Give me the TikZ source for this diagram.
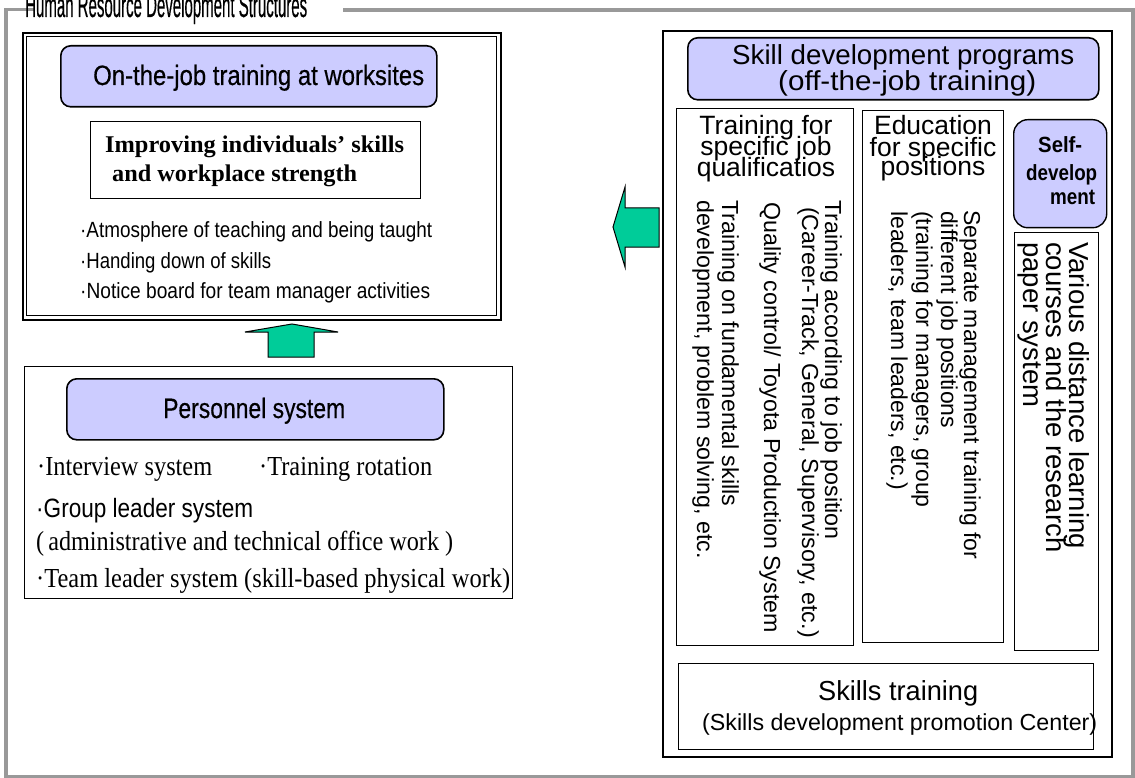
\documentclass[tikz,border=0pt]{standalone}
\usepackage{fontspec}
\usepackage{graphicx}
\setmainfont{Liberation Serif}
\newfontfamily\sansf{Liberation Sans}
\newfontfamily\sansh[FakeBold=0.5]{Liberation Sans}
\newcommand\fw[2]{\resizebox{#1pt}{\height}{#2}}
\newcommand\fs[1]{\fontsize{#1pt}{#1pt}\selectfont}
\definecolor{lav}{HTML}{CCCCFF}
\definecolor{grn}{HTML}{00CC99}
\definecolor{frame}{HTML}{999999}
\begin{document}
\begin{tikzpicture}[x=1pt,y=-1pt,
  box/.style={draw=black, line width=1pt, inner sep=0pt, anchor=north west},
  headbox/.style={draw=black, line width=1.6pt, fill=lav, rounded corners=10pt, inner sep=0pt, anchor=north west},
  txt/.style={inner sep=0pt, anchor=base west},
  ctxt/.style={inner sep=0pt, anchor=base},
  vtxt/.style={inner sep=0pt, anchor=base west, rotate=-90},
  blockarrow/.style={draw=black, line width=1pt, fill=grn, line join=miter}]
\useasboundingbox (0,0) rectangle (1135,778);
% outer gray frame
\draw[frame, line width=3.5pt] (35,9.5) -- (6,9.5) -- (6,776.5) -- (1133,776.5) -- (1133,10) -- (343,10);
\node[txt, font=\sansh\fs{34}] (title) at (25,17) {\fw{282}{Human Resource Development Structures}};

% OJT block
\node[box, line width=1.8pt, minimum width=478pt, minimum height=287pt] (ojtouter) at (22,32) {};
\node[box, line width=1.2pt, minimum width=470pt, minimum height=279pt] (ojt) at (26,36) {};
\node[headbox, minimum width=376pt, minimum height=61pt] (ojthead) at (60,45) {};
\node[txt, font=\sansh\fs{28}] (ojtT) at (93,85) {\fw{331}{On-the-job training at worksites}};
\node[box, minimum width=330pt, minimum height=77pt] (imp) at (90,121) {};
\node[txt, font=\bfseries\fs{24}] (imp1) at (105,153) {\fw{299}{Improving individuals’ skills}};
\node[txt, font=\bfseries\fs{24}] (imp2) at (112,182) {\fw{245}{and workplace strength}};
\node[txt, font=\sansf\fs{22}] (b1) at (80,237) {\fw{352}{·Atmosphere of teaching and being taught}};
\node[txt, font=\sansf\fs{22}] (b2) at (80,268) {\fw{191}{·Handing down of skills}};
\node[txt, font=\sansf\fs{22}] (b3) at (80,298) {\fw{350}{·Notice board for team manager activities}};

% Personnel block
\node[box, minimum width=488pt, minimum height=232pt] (pers) at (24,366) {};
\node[headbox, minimum width=377pt, minimum height=61pt] (pershead) at (66,378) {};
\node[txt, font=\sansh\fs{28}] (persT) at (163,418) {\fw{182}{Personnel system}};
\node[txt, font=\fs{27.5}] (p1) at (37,475) {\fw{175}{·Interview system}};
\node[txt, font=\fs{27.5}] (p2) at (259,475) {\fw{173}{·Training rotation}};
\node[txt, font=\sansf\fs{26.5}] (p3) at (36,517) {\fw{217}{·Group leader system}};
\node[txt, font=\fs{27.5}] (p4) at (36,550) {\fw{417}{(\,administrative and technical office work )}};
\node[txt, font=\fs{27.5}] (p5) at (36,587) {\fw{474}{·Team leader system (skill-based physical work)}};

% Off-JT block
\node[box, line width=1.6pt, minimum width=449pt, minimum height=726pt] (off) at (662,30) {};
\node[headbox, minimum width=411pt, minimum height=62pt] (offhead) at (687,37) {};
\node[txt, font=\sansf\fs{27.5}] (offT1) at (732,65) {\fw{342}{Skill development programs}};
\node[txt, font=\sansf\fs{27.5}] (offT2) at (778,91) {\fw{258}{(off-the-job training)}};

\node[box, minimum width=177pt, minimum height=537pt] (col1) at (676,108) {};
\node[box, minimum width=141pt, minimum height=532pt] (col2) at (862,110) {};
\node[headbox, rounded corners=14pt, line width=1.4pt, minimum width=93pt, minimum height=108pt] (self) at (1013,119) {};
\node[box, minimum width=84pt, minimum height=418pt] (dist) at (1014,232) {};
\node[box, minimum width=415pt, minimum height=86pt] (skills) at (678,663) {};

\node[ctxt, font=\sansf\fs{26.5}] (c1a) at (766,135) {Training for};
\node[ctxt, font=\sansf\fs{26.5}] (c1b) at (766,156) {specific job};
\node[ctxt, font=\sansf\fs{26.5}] (c1c) at (766,177) {qualificatios};
\node[ctxt, font=\sansf\fs{26.5}] (c2a) at (933,135) {Education};
\node[ctxt, font=\sansf\fs{26.5}] (c2b) at (933,157) {for specific};
\node[ctxt, font=\sansf\fs{26.5}] (c2c) at (933,176) {positions};

\node[vtxt, font=\sansf\fs{23.2}] (r11) at (825,200) {Training according to job position};
\node[vtxt, font=\sansf\fs{23.2}] (r12) at (802,207) {(Career-Track, General, Supervisory, etc.)};
\node[vtxt, font=\sansf\fs{23.2}] (r13) at (764,202) {Quality control/ Toyota Production System};
\node[vtxt, font=\sansf\fs{23.2}] (r14) at (722,200) {Training on fundamental skills};
\node[vtxt, font=\sansf\fs{23.2}] (r15) at (697,200) {development, problem solving, etc.};

\node[vtxt, font=\sansf\fs{23}] (r21) at (964,210) {Separate management training for};
\node[vtxt, font=\sansf\fs{23}] (r22) at (941,211) {different job positions};
\node[vtxt, font=\sansf\fs{23}] (r23) at (916,211) {(training for managers, group};
\node[vtxt, font=\sansf\fs{23}] (r24) at (891,211) {leaders, team leaders, etc.)};

\node[vtxt, font=\sansf\fs{27.5}] (r31) at (1069,242) {Various distance learning};
\node[vtxt, font=\sansf\fs{27.5}] (r32) at (1046,242) {courses and the research};
\node[vtxt, font=\sansf\fs{27.5}] (r33) at (1023,242) {paper system};

\node[txt, font=\sansf\bfseries\fs{22}] (s1) at (1038,153) {\fw{44}{Self-}};
\node[txt, font=\sansf\bfseries\fs{22}] (s2) at (1026,181) {\fw{71}{develop}};
\node[txt, font=\sansf\bfseries\fs{22}] (s3) at (1050,205) {\fw{45}{ment}};

\node[txt, font=\sansf\fs{27.5}] (sk1) at (818,700) {\fw{160}{Skills training}};
\node[txt, font=\sansf\fs{23.2}] (sk2) at (702,730) {\fw{395}{(Skills development promotion Center)}};

% block arrows
\draw[blockarrow] (613,227) -- (625,187) -- (625,208) -- (659,208) -- (659,247) -- (625,247) -- (625,267) -- cycle;
\draw[blockarrow] (292,324) -- (338,332) -- (314,332) -- (314,357) -- (268,357) -- (268,332) -- (245,332) -- cycle;
\end{tikzpicture}
\end{document}
